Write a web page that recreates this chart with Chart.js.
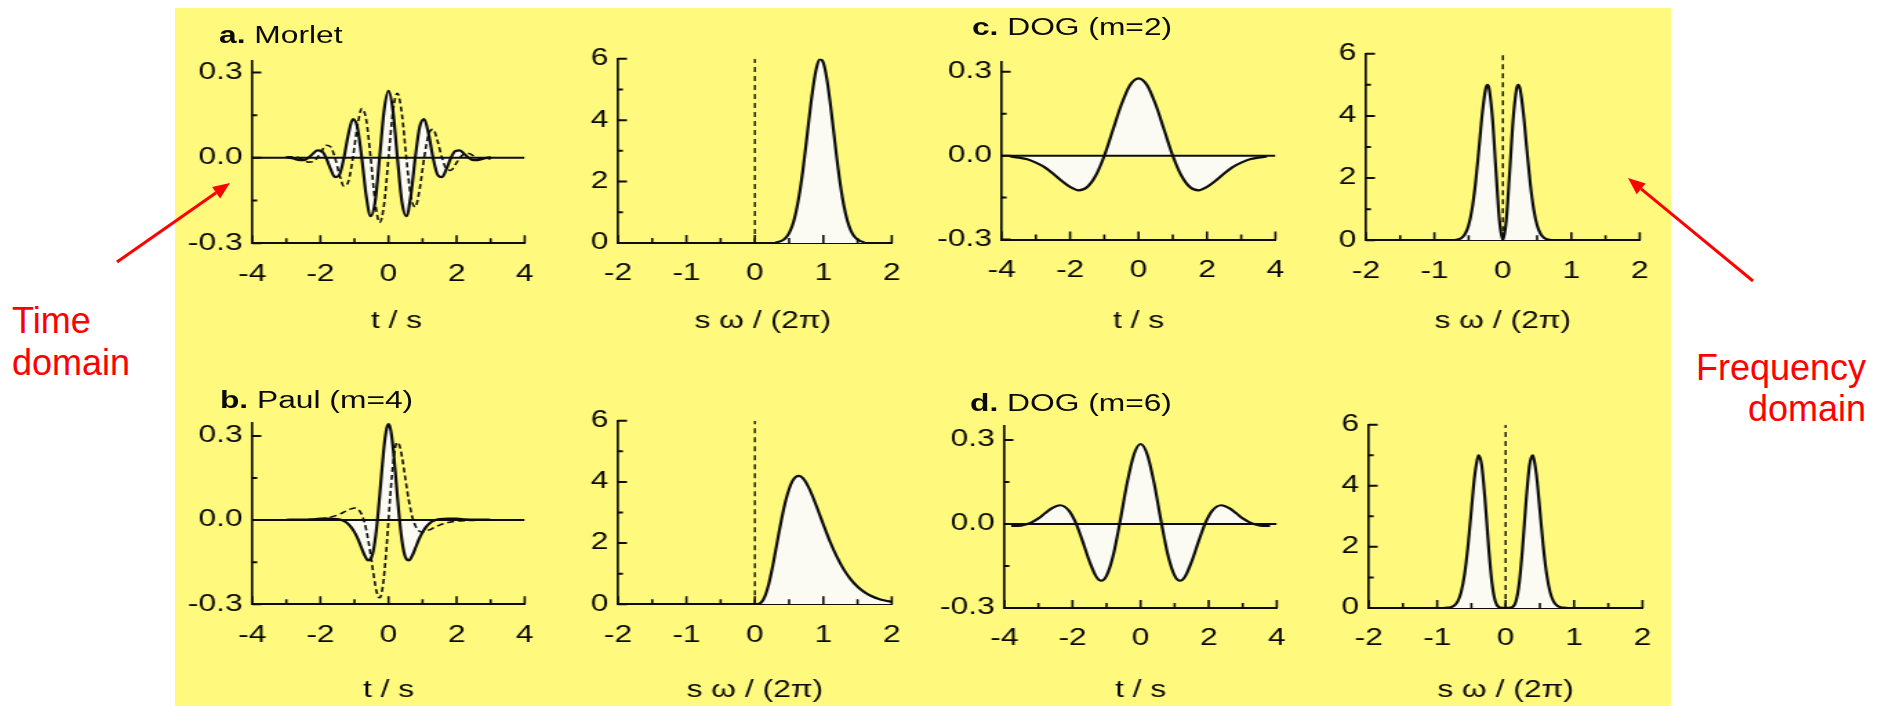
<!DOCTYPE html>
<html>
<head>
<meta charset="utf-8">
<script src="https://cdn.jsdelivr.net/npm/chart.js@4.4.1/dist/chart.umd.min.js"></script>
<style>
  html, body { margin: 0; padding: 0; background: #ffffff; }
  body { width: 1881px; height: 706px; position: relative; overflow: hidden;
         font-family: 'Liberation Sans', Arial, Helvetica, sans-serif; }
  #sheet { position: absolute; left: 175px; top: 8px; width: 1496px; height: 698px; background: #fffa7d; }
  #stretch { position: absolute; left: 175px; top: 0; width: 1084px; height: 706px;
             transform: scaleX(1.38); transform-origin: 0 0; }
  #stretch canvas { position: absolute; }
  .ptitle { position: absolute; font-size: 23px; line-height: 23px; color: #0a0a0a; white-space: nowrap; }
  .note { position: absolute; font-size: 36px; line-height: 36px; color: #ff0000; white-space: nowrap; }
  #arrows { position: absolute; left: 0; top: 0; }
</style>
</head>
<body>
<div id="sheet"></div>
<div id="stretch">
  <div class="ptitle" style="left:31.9px; top:23.5px;"><b>a.</b> Morlet</div>
  <div class="ptitle" style="left:577.5px; top:15.5px;"><b>c.</b> DOG (m=2)</div>
  <div class="ptitle" style="left:32.6px; top:388.5px;"><b>b.</b> Paul (m=4)</div>
  <div class="ptitle" style="left:576.1px; top:392px;"><b>d.</b> DOG (m=6)</div>
</div>
<div class="note" style="left:12px; top:302.8px;">Time</div>
<div class="note" style="left:12px; top:344.5px;">domain</div>
<div class="note" style="right:15px; top:349.5px; text-align:right;">Frequency</div>
<div class="note" style="right:15px; top:391.2px; text-align:right;">domain</div>
<svg id="arrows" width="1881" height="706">
  <g stroke="#ff0000" stroke-width="3" fill="#ff0000">
    <line x1="117" y1="262" x2="216.1" y2="192.7"/>
    <polygon stroke="none" points="230,183 220.1,198.4 212.1,187.0"/>
    <line x1="1753" y1="281" x2="1641.1" y2="188.8"/>
    <polygon stroke="none" points="1628,178 1645.6,183.4 1636.7,194.2"/>
  </g>
</svg>

<script>
// ---- axis ticks ----
const tTicks   = [-4, -2, 0, 2, 4];
const tMinor   = [-3, -1, 1, 3];
const ampTicks = [-0.3, 0, 0.3];
const ampMinor = [-0.15, 0.15];
const fTicks   = [-2, -1, 0, 1, 2];
const fMinor   = [-1.5, -0.5, 0.5, 1.5];
const powTicks = [0, 2, 4, 6];
const powMinor = [1, 3, 5];
const tRange   = [-4, 4];
const fRange   = [-2, 2];
const powRange = [0, 6];
const zeroPair = [0, 0];

// ---- a. Morlet, time domain (real = solid, imaginary = dashed) ----
const morletT  = [-3.011,-2.880,-2.749,-2.618,-2.487,-2.356,-2.225,-2.094,-1.963,-1.833,-1.702,-1.571,
                  -1.440,-1.309,-1.178,-1.047,-0.916,-0.785,-0.654,-0.524,-0.393,-0.262,-0.131,0,
                  0.131,0.262,0.393,0.524,0.654,0.785,0.916,1.047,1.178,1.309,1.440,1.571,1.702,1.833,
                  1.963,2.094,2.225,2.356,2.487,2.618,2.749,2.880,3.011];
const morletRe = [0.002,0,-0.004,-0.008,-0.008,0,0.014,0.026,0.024,0,-0.039,-0.068,-0.059,0,0.083,0.136,
                  0.109,0,-0.134,-0.205,-0.154,0,0.165,0.235,0.165,0,-0.154,-0.205,-0.134,0,0.109,0.136,
                  0.083,0,-0.059,-0.068,-0.039,0,0.024,0.026,0.014,0,-0.008,-0.008,-0.004,0,0.002];
const morletIm = [0.002,0.004,0.004,0,-0.008,-0.015,-0.014,0,0.024,0.044,0.039,0,-0.059,-0.100,-0.083,0,
                  0.109,0.173,0.134,0,-0.154,-0.227,-0.165,0,0.165,0.227,0.154,0,-0.134,-0.173,-0.109,0,
                  0.083,0.100,0.059,0,-0.039,-0.044,-0.024,0,0.014,0.015,0.008,0,-0.004,-0.004,-0.002];

// ---- a. Morlet, frequency domain ----
const morletF   = [0.30,0.35,0.40,0.45,0.50,0.55,0.60,0.65,0.70,0.75,0.80,0.85,0.90,0.95,1.00,1.05,
                   1.10,1.15,1.20,1.25,1.30,1.35,1.40,1.45,1.50,1.55,1.60];
const morletPow = [0.014,0.035,0.078,0.164,0.32,0.58,1.00,1.59,2.35,3.26,4.21,5.07,5.71,5.99,5.87,5.36,
                   4.57,3.64,2.70,1.87,1.21,0.73,0.41,0.22,0.11,0.05,0.02];

// ---- b. Paul (m=4), time domain ----
const paulT  = [-3,-2.75,-2.5,-2.25,-2,-1.75,-1.5,-1.4,-1.3,-1.2,-1.1,-1,-0.9,-0.8,-0.7,-0.6,-0.5,-0.45,
                -0.4,-0.35,-0.3,-0.25,-0.2,-0.15,-0.1,-0.05,0,0.05,0.1,0.15,0.2,0.25,0.3,0.35,0.4,0.45,
                0.5,0.6,0.7,0.8,0.9,1,1.1,1.2,1.3,1.4,1.5,1.75,2,2.25,2.5,2.75,3];
const paulRe = [0.001,0.002,0.002,0.003,0.005,0.005,0.004,0.001,-0.004,-0.012,-0.025,-0.043,-0.067,-0.097,
                -0.126,-0.144,-0.133,-0.112,-0.077,-0.029,0.031,0.100,0.171,0.238,0.293,0.329,0.342,
                0.329,0.293,0.238,0.171,0.100,0.031,-0.029,-0.077,-0.112,-0.133,-0.144,-0.126,-0.097,
                -0.067,-0.043,-0.025,-0.012,-0.004,0.001,0.004,0.005,0.005,0.003,0.002,0.002,0.001];
const paulIm = [0,0,0.001,0.002,0.004,0.009,0.018,0.023,0.029,0.035,0.040,0.043,0.039,0.023,-0.011,-0.068,
                -0.144,-0.185,-0.223,-0.255,-0.274,-0.277,-0.259,-0.219,-0.159,-0.084,0,
                0.084,0.159,0.219,0.259,0.277,0.274,0.255,0.223,0.185,0.144,0.068,0.011,-0.023,-0.039,
                -0.043,-0.040,-0.035,-0.029,-0.023,-0.018,-0.009,-0.004,-0.002,-0.001,0,0];

// ---- b. Paul (m=4), frequency domain ----
const paulF   = [0,0.05,0.1,0.15,0.2,0.25,0.3,0.35,0.4,0.45,0.5,0.55,0.6,0.65,0.7,0.75,0.8,0.85,0.9,0.95,
                 1.0,1.1,1.2,1.3,1.4,1.5,1.6,1.7,1.8,1.9,2.0];
const paulPow = [0,0.006,0.075,0.275,0.636,1.134,1.717,2.323,2.895,3.387,3.771,4.032,4.171,4.196,4.123,
                 3.968,3.752,3.492,3.206,2.907,2.607,2.036,1.539,1.131,0.811,0.570,0.394,0.268,0.180,
                 0.119,0.078];

// ---- c. DOG (m=2) ----
const dog2T   = [-3.75,-3.5,-3.25,-3,-2.75,-2.5,-2.25,-2,-1.75,-1.5,-1.25,-1,-0.75,-0.5,-0.25,0,
                 0.25,0.5,0.75,1,1.25,1.5,1.75,2,2.25,2.5,2.75,3,3.25,3.5,3.75];
const dog2Psi = [-0.003,-0.007,-0.013,-0.025,-0.041,-0.064,-0.090,-0.112,-0.124,-0.112,-0.071,0,0.092,
                 0.183,0.252,0.277,0.252,0.183,0.092,0,-0.071,-0.112,-0.124,-0.112,-0.090,-0.064,
                 -0.041,-0.025,-0.013,-0.007,-0.003];
const dog2F   = [-0.7,-0.65,-0.6,-0.55,-0.5,-0.45,-0.4,-0.35,-0.3,-0.25,-0.225,-0.2,-0.15,-0.1,-0.05,0,
                 0.05,0.1,0.15,0.2,0.225,0.25,0.3,0.35,0.4,0.45,0.5,0.55,0.6,0.65,0.7];
const dog2Pow = [0.008,0.027,0.079,0.207,0.482,0.998,1.824,2.928,4.086,4.883,5.000,4.872,3.872,2.202,
                 0.638,0,0.638,2.202,3.872,4.872,5.000,4.883,4.086,2.928,1.824,0.998,0.482,0.207,
                 0.079,0.027,0.008];

// ---- d. DOG (m=6) ----
const dog6T   = [-3.8,-3.6,-3.4,-3.2,-3.0,-2.8,-2.6,-2.367,-2.1,-1.9,-1.7,-1.5,-1.3,-1.154,-1.0,-0.8,
                 -0.6,-0.4,-0.2,0,0.2,0.4,0.6,0.8,1.0,1.154,1.3,1.5,1.7,1.9,2.1,2.367,2.6,2.8,3.0,3.2,
                 3.4,3.6,3.8];
const dog6Psi = [-0.007,-0.007,-0.003,0.006,0.020,0.039,0.057,0.067,0.047,0.003,-0.063,-0.134,-0.189,
                 -0.203,-0.185,-0.110,0.011,0.144,0.247,0.286,0.247,0.144,0.011,-0.110,-0.185,-0.203,
                 -0.189,-0.134,-0.063,0.003,0.047,0.067,0.057,0.039,0.020,0.006,-0.003,-0.007,-0.007];
const dog6F   = [-0.9,-0.85,-0.8,-0.75,-0.7,-0.65,-0.6,-0.55,-0.5,-0.45,-0.4,-0.39,-0.35,-0.3,-0.25,
                 -0.2,-0.15,-0.1,-0.05,0,0.05,0.1,0.15,0.2,0.25,0.3,0.35,0.39,0.4,0.45,0.5,0.55,0.6,
                 0.65,0.7,0.75,0.8,0.85,0.9];
const dog6Pow = [0.002,0.007,0.024,0.077,0.212,0.516,1.095,2.020,3.214,4.363,4.980,5.000,4.685,3.529,
                 2.034,0.831,0.209,0.024,0,0,0,0.024,0.209,0.831,2.034,3.529,4.685,5.000,4.980,4.363,
                 3.214,2.020,1.095,0.516,0.212,0.077,0.024,0.007,0.002];

// ---- drawing setup ----
const K = 1.38;          // horizontal stretch of the figure sheet
const X0 = 175;          // left edge of the sheet on the page
const PT = 20, PR = 20, YW = 60;
const INK = '#0d0d0d', TXT = '#0a0a0a', FILL = '#fbfbf4';
const FONT = "'Liberation Sans', Arial, Helvetica, sans-serif";
Chart.defaults.font.family = FONT;

const pts = (xs, ys) => xs.map((x, i) => ({ x: x, y: ys[i] }));
const solid = (xs, ys) => ({ data: pts(xs, ys), borderColor: INK, borderWidth: 2.2, backgroundColor: FILL,
  fill: 'origin', cubicInterpolationMode: 'monotone', pointRadius: 0 });
const dashed = (xs, ys) => ({ data: pts(xs, ys), borderColor: INK, borderWidth: 1.6, borderDash: [5, 3],
  fill: false, cubicInterpolationMode: 'monotone', pointRadius: 0 });
const zeroLine = () => ({ data: pts(tRange, zeroPair), borderColor: INK, borderWidth: 2, fill: false, pointRadius: 0 });
const originMark = () => ({ data: pts(zeroPair, powRange), borderColor: INK, borderWidth: 1.4, borderDash: [5, 4],
  fill: false, pointRadius: 0 });

const timeAxes = { xr: tRange, xMaj: tTicks, xMin: tMinor, yMaj: ampTicks, yMin: ampMinor,
  xFmt: v => String(v), yFmt: v => v.toFixed(1), xTitle: 't / s' };
const freqAxes = { xr: fRange, xMaj: fTicks, xMin: fMinor, yMaj: powTicks, yMin: powMinor,
  xFmt: v => String(v), yFmt: v => String(v), xTitle: 's \u03c9 / (2\u03c0)' };

const panels = [
  { ax: timeAxes, L: 252.7, R: 530.7, T: 60.0,  B: 243.0, yr: [-0.3, 0.341], titleY: 321, shift: true,
    sets: [solid(morletT, morletRe), dashed(morletT, morletIm), zeroLine()] },
  { ax: freqAxes, L: 617.3, R: 895.7, T: 58.3,  B: 242.7, yr: [0, 6], titleY: 321, shift: true,
    sets: [solid(morletF, morletPow), originMark()] },
  { ax: timeAxes, L: 1001.7, R: 1280.0, T: 60.7, B: 239.3, yr: [-0.3, 0.336], titleY: 321,
    sets: [solid(dog2T, dog2Psi), zeroLine()] },
  { ax: freqAxes, L: 1366.0, R: 1644.3, T: 53.3, B: 240.0, yr: [0, 6], titleY: 321,
    sets: [solid(dog2F, dog2Pow), originMark()] },
  { ax: timeAxes, L: 252.7, R: 530.7, T: 421.7, B: 604.0, yr: [-0.3, 0.347], titleY: 690,
    sets: [solid(paulT, paulRe), dashed(paulT, paulIm), zeroLine()] },
  { ax: freqAxes, L: 617.3, R: 895.7, T: 420.0, B: 604.0, yr: [0, 6], titleY: 690,
    sets: [solid(paulF, paulPow), originMark()] },
  { ax: timeAxes, L: 1004.0, R: 1281.7, T: 425.0, B: 607.7, yr: [-0.3, 0.351], titleY: 690,
    sets: [solid(dog6T, dog6Psi), zeroLine()] },
  { ax: freqAxes, L: 1368.3, R: 1646.7, T: 424.0, B: 607.7, yr: [0, 6], titleY: 690,
    sets: [solid(dog6F, dog6Pow), originMark()] }
];

// tick marks drawn on the inside of the frame, majors longer than minors
function innerTicks(ax) {
  return {
    id: 'innerTicks',
    afterDraw(chart) {
      const { ctx, chartArea: a, scales: { x, y } } = chart;
      ctx.save();
      ctx.strokeStyle = INK;
      ctx.lineWidth = 1.6;
      ctx.beginPath();
      ax.xMaj.forEach(v => { const p = x.getPixelForValue(v); ctx.moveTo(p, a.bottom); ctx.lineTo(p, a.bottom - 8); });
      ax.xMin.forEach(v => { const p = x.getPixelForValue(v); ctx.moveTo(p, a.bottom); ctx.lineTo(p, a.bottom - 5); });
      ctx.stroke();
      ctx.lineWidth = 2;
      ctx.beginPath();
      ax.yMaj.forEach(v => { const p = y.getPixelForValue(v); ctx.moveTo(a.left, p); ctx.lineTo(a.left + 6.5, p); });
      ax.yMin.forEach(v => { const p = y.getPixelForValue(v); ctx.moveTo(a.left, p); ctx.lineTo(a.left + 3.6, p); });
      ctx.stroke();
      ctx.restore();
    }
  };
}

const host = document.getElementById('stretch');
panels.forEach(p => {
  const ax = p.ax;
  const XH = p.titleY - p.B + 13.8;
  const w = Math.round(YW + (p.R - p.L) / K + PR);
  const h = Math.round(PT + (p.B - p.T) + XH);
  const cv = document.createElement('canvas');
  cv.width = w; cv.height = h;
  cv.style.left = ((p.L - X0) / K - YW) + 'px';
  cv.style.top = (p.T - PT) + 'px';
  host.appendChild(cv);

  const tickFont = { family: FONT, size: 23, lineHeight: 1.2 };
  new Chart(cv, {
    type: 'line',
    data: { datasets: p.sets },
    options: {
      responsive: false,
      animation: false,
      events: [],
      layout: { padding: { left: 0, top: PT, right: PR, bottom: 0 } },
      plugins: {
        legend: { display: false },
        tooltip: { enabled: false },
        filler: { drawTime: 'beforeDatasetsDraw' }
      },
      scales: {
        x: {
          type: 'linear', min: ax.xr[0], max: ax.xr[1],
          afterBuildTicks: s => { s.ticks = ax.xMaj.map(v => ({ value: v })); },
          afterFit: s => { s.height = XH; },
          grid: { display: false, drawTicks: false },
          border: { display: true, color: INK, width: 2 },
          ticks: { padding: 17.2, color: TXT, font: tickFont, maxRotation: 0, autoSkip: false,
                   callback: v => ax.xFmt(v) },
          title: { display: true, text: (p.shift ? '\u2002' : '') + ax.xTitle, color: TXT, font: tickFont,
                   padding: { top: 0, bottom: 0 } }
        },
        y: {
          type: 'linear', min: p.yr[0], max: p.yr[1],
          afterBuildTicks: s => { s.ticks = ax.yMaj.map(v => ({ value: v })); },
          afterFit: s => { s.width = YW; },
          grid: { display: false, drawTicks: false },
          border: { display: true, color: INK, width: 1.7 },
          ticks: { padding: 7, color: TXT, font: tickFont, autoSkip: false, callback: v => ax.yFmt(v) }
        }
      }
    },
    plugins: [innerTicks(ax)]
  });
});
</script>
</body>
</html>
